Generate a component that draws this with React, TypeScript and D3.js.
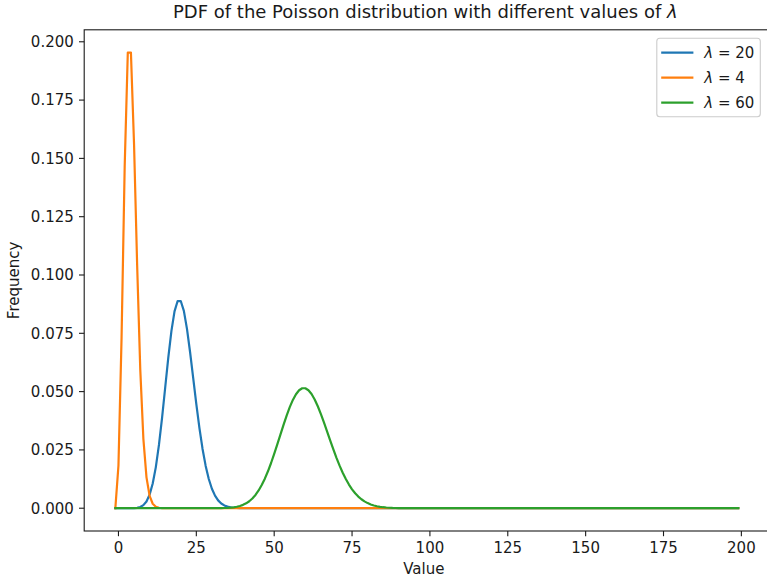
import React from 'react';
import * as d3 from 'd3';

// x runs over integers from -1 to 199
const X_START = -1;
const X_END = 199;

const seriesLabels = ['20', '4', '60'];
const seriesColors = ['#1f77b4', '#ff7f0e', '#2ca02c'];

// values; zero outside the listed window
const lambda20Start = 4;
const lambda20Values = [
  0.00001, 0.00005, 0.00018, 0.00052, 0.00131, 0.00291, 0.00582, 0.01058, 0.01763, 0.02712,
  0.03874, 0.05165, 0.06456, 0.07595, 0.08439, 0.08884, 0.08884, 0.08461, 0.07691, 0.06688,
  0.05574, 0.04459, 0.0343, 0.02541, 0.01815, 0.01252, 0.00834, 0.00538, 0.00336, 0.00204,
  0.0012, 0.00069, 0.00038, 0.00021, 0.00011, 0.00006, 0.00003,
];

const lambda4Start = 0;
const lambda4Values = [
  0.01832, 0.07326, 0.14653, 0.19537, 0.19537, 0.15629, 0.1042, 0.05954, 0.02977, 0.01323,
  0.00529, 0.00192, 0.00064, 0.0002, 0.00006, 0.00002,
];

const lambda60Start = 32;
const lambda60Values = [
  0.00003, 0.00005, 0.00009, 0.00015, 0.00024, 0.00039, 0.00062, 0.00096, 0.00144, 0.0021,
  0.003, 0.00419, 0.00571, 0.00761, 0.00993, 0.01267, 0.01584, 0.01939, 0.02327, 0.02738,
  0.03159, 0.03576, 0.03974, 0.04335, 0.04644, 0.04889, 0.05057, 0.05143, 0.05143, 0.05059,
  0.04896, 0.04663, 0.04371, 0.04035, 0.03668, 0.03285, 0.02898, 0.0252, 0.0216, 0.01826,
  0.01521, 0.0125, 0.01014, 0.00811, 0.0064, 0.00499, 0.00384, 0.00292, 0.00219, 0.00162,
  0.00119, 0.00086, 0.00061, 0.00043, 0.0003, 0.00021, 0.00014, 0.0001, 0.00006,
];

const xTicks = [0, 25, 50, 75, 100, 125, 150, 175, 200];
const yTicks = [0, 0.025, 0.05, 0.075, 0.1, 0.125, 0.15, 0.175, 0.2];

const titleText = 'PDF of the Poisson distribution with different values of ';
const xLabel = 'Value';
const yLabel = 'Frequency';

const W = 767;
const H = 580;
const FONT = 'DejaVu Sans, Verdana, sans-serif';
const INK = '#1a1a1a';

function buildSeries(start: number, values: number[]) {
  return d3.range(X_START, X_END + 1).map((x) => {
    const i = x - start;
    return { x, y: i >= 0 && i < values.length ? values[i] : 0 };
  });
}

export default function App() {
  const left = 84.2;
  const right = 769.4;
  const top = 29.8;
  const bottom = 531;

  const x = d3.scaleLinear().domain([-11, 209]).range([left, right]);
  const y = d3.scaleLinear().domain([-0.009768, 0.205137]).range([bottom, top]);

  const series = [
    buildSeries(lambda20Start, lambda20Values),
    buildSeries(lambda4Start, lambda4Values),
    buildSeries(lambda60Start, lambda60Values),
  ];

  const line = d3
    .line<{ x: number; y: number }>()
    .x((d) => x(d.x))
    .y((d) => y(d.y));

  const tickLen = 5.2;
  const fs = 15;
  const fmt = d3.format('.3f');

  const legLeft = 656.8;
  const legTop = 38.3;
  const legW = 103.5;
  const rowGap = 25;
  const legH = 78.5;

  return (
    <svg
      width={W}
      height={H}
      style={{ position: 'absolute', left: 0, top: 0, background: '#fff' }}
      fontFamily={FONT}
    >
      <rect x={0} y={0} width={W} height={H} fill="#fff" />
      <defs>
        <clipPath id="plotClip">
          <rect x={left} y={top} width={right - left} height={bottom - top} />
        </clipPath>
      </defs>

      {/* lines */}
      <g clipPath="url(#plotClip)">
        {series.map((s, i) => (
          <path
            key={i}
            d={line(s) || ''}
            fill="none"
            stroke={seriesColors[i]}
            strokeWidth={2.2}
            strokeLinejoin="round"
            strokeLinecap="square"
          />
        ))}
      </g>

      {/* spines */}
      <rect
        x={left}
        y={top}
        width={right - left}
        height={bottom - top}
        fill="none"
        stroke={INK}
        strokeWidth={1.1}
      />

      {/* x ticks */}
      {xTicks.map((t) => (
        <g key={`x${t}`}>
          <line x1={x(t)} x2={x(t)} y1={bottom} y2={bottom + tickLen} stroke={INK} strokeWidth={1.1} />
          <text x={x(t)} y={553} fontSize={fs} textAnchor="middle" fill={INK}>
            {t}
          </text>
        </g>
      ))}

      {/* y ticks */}
      {yTicks.map((t) => (
        <g key={`y${t}`}>
          <line x1={left - tickLen} x2={left} y1={y(t)} y2={y(t)} stroke={INK} strokeWidth={1.1} />
          <text x={left - tickLen - 5.2} y={y(t)} dy="0.36em" fontSize={fs} textAnchor="end" fill={INK}>
            {fmt(t)}
          </text>
        </g>
      ))}

      {/* axis labels */}
      <text x={(left + right) / 2 - 3} y={574} fontSize={fs} textAnchor="middle" fill={INK}>
        {xLabel}
      </text>
      <text
        transform={`translate(18.8,${(top + bottom) / 2}) rotate(-90)`}
        fontSize={fs}
        textAnchor="middle"
        fill={INK}
      >
        {yLabel}
      </text>

      {/* title */}
      <text x={(left + right) / 2 - 1.5} y={17.5} fontSize={18} textAnchor="middle" fill={INK}>
        {titleText}
        <tspan fontStyle="italic">λ</tspan>
      </text>

      {/* legend */}
      <rect
        x={legLeft}
        y={legTop}
        width={legW}
        height={legH}
        rx={3}
        ry={3}
        fill="#fff"
        fillOpacity={0.8}
        stroke="#cccccc"
        strokeWidth={1.1}
      />
      {seriesLabels.map((lab, i) => {
        const cy = legTop + 14.4 + i * rowGap;
        return (
          <g key={lab}>
            <line
              x1={legLeft + 5.5}
              x2={legLeft + 35.5}
              y1={cy}
              y2={cy}
              stroke={seriesColors[i]}
              strokeWidth={2.2}
              strokeLinecap="square"
            />
            <text x={legLeft + 47.5} y={cy} dy="0.36em" fontSize={fs} fill={INK}>
              <tspan fontStyle="italic">λ</tspan>
              <tspan>{` = ${lab}`}</tspan>
            </text>
          </g>
        );
      })}
    </svg>
  );
}
